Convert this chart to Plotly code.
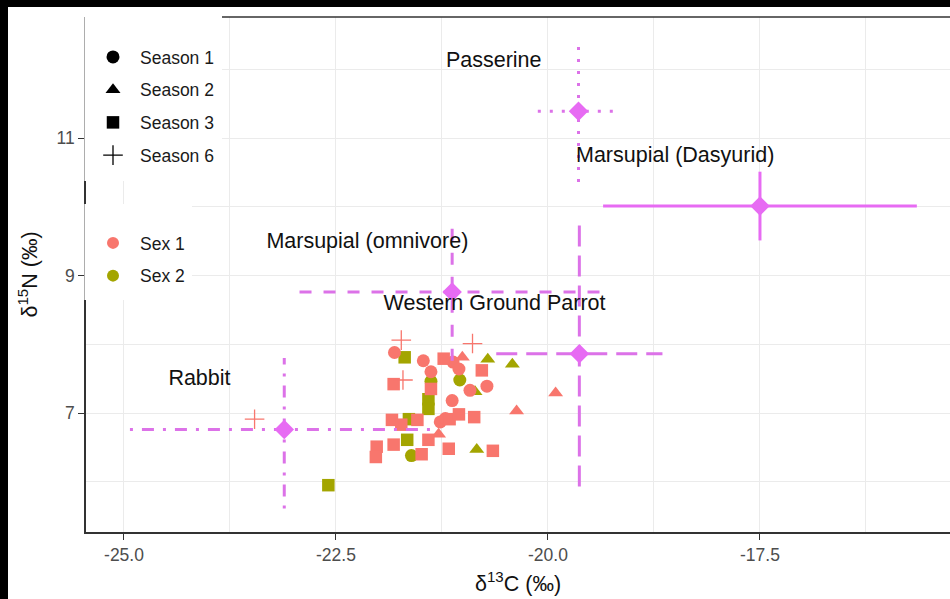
import plotly.graph_objects as go

# ---- consumer isotope values (d13C, d15N) by sex and sampling season ----
sex1_s1_c = [-21.81, -21.47, -21.12, -21.05, -21.38, -20.92, -20.72, -21.13, -21.27, -21.21]
sex1_s1_n = [7.88, 7.76, 7.74, 7.64, 7.60, 7.33, 7.39, 7.18, 6.87, 6.92]
sex1_s2_c = [-21.01, -19.91, -20.37, -21.29]
sex1_s2_n = [7.81, 7.29, 7.03, 6.69]
sex1_s3_c = [-21.23, -20.78, -21.82, -21.38, -21.84, -21.54, -21.73, -21.16, -21.05,
             -20.87, -21.41, -21.82, -22.02, -22.03, -21.17, -20.65, -21.49]
sex1_s3_n = [7.79, 7.62, 7.42, 7.35, 6.90, 6.90, 6.83, 6.91, 6.98,
             6.94, 6.61, 6.54, 6.51, 6.36, 6.48, 6.45, 6.40]
sex1_s6_c = [-21.73, -20.89, -21.71, -23.46]
sex1_s6_n = [8.06, 8.01, 7.48, 6.91]

sex2_s1_c = [-21.04, -21.38, -21.61]
sex2_s1_n = [7.48, 7.46, 6.38]
sex2_s2_c = [-20.71, -20.42, -20.86, -20.84]
sex2_s2_n = [7.78, 7.71, 7.31, 6.47]
sex2_s3_c = [-21.69, -21.41, -21.41, -21.64, -21.66, -22.59]
sex2_s3_n = [7.81, 7.20, 7.06, 6.91, 6.61, 5.95]

# ---- prey sources: mean and spread ----
prey_names = ["Marsupial (Dasyurid)", "Marsupial (omnivore)", "Passerine", "Rabbit", "Western Ground Parrot"]
prey_c_mean = [-17.50, -21.13, -19.64, -23.11, -19.63]
prey_n_mean = [10.01, 8.76, 11.39, 6.76, 7.86]
prey_c_lo = [-19.35, -22.93, -20.12, -24.93, -20.61]
prey_c_hi = [-15.65, -19.33, -19.16, -21.29, -18.65]
prey_n_lo = [9.51, 7.76, 10.36, 5.61, 5.93]
prey_n_hi = [10.51, 9.76, 12.42, 7.80, 9.79]
prey_dash = ["solid", "12px,12px", "3px,9px", "3px,9px,12px,9px", "21px,9px"]
label_dx = -1.0
label_dy = 0.72

season_names = ["Season 1", "Season 2", "Season 3", "Season 6"]
sex_names = ["Sex 1", "Sex 2"]

SEX_COL = {"Sex 1": "#F8766D", "Sex 2": "#A3A500"}
PREY_COL = "#E76BF3"
PREY_LINE_COL = "#DC72E8"
FONT = "Liberation Sans, Arial, sans-serif"

SYMBOL = {
    "Season 1": dict(symbol="circle", size=13),
    "Season 2": dict(symbol="triangle-up", size=13),
    "Season 3": dict(symbol="square", size=12.5),
    "Season 6": dict(symbol="cross-thin-open", size=14, line=dict(width=1.3)),
}

fig = go.Figure()

groups = [
    ("Sex 2", "Season 1", sex2_s1_c, sex2_s1_n),
    ("Sex 2", "Season 2", sex2_s2_c, sex2_s2_n),
    ("Sex 2", "Season 3", sex2_s3_c, sex2_s3_n),
    ("Sex 1", "Season 1", sex1_s1_c, sex1_s1_n),
    ("Sex 1", "Season 2", sex1_s2_c, sex1_s2_n),
    ("Sex 1", "Season 3", sex1_s3_c, sex1_s3_n),
    ("Sex 1", "Season 6", sex1_s6_c, sex1_s6_n),
]
for sex, season, xs, ys in groups:
    m = dict(SYMBOL[season])
    m["color"] = SEX_COL[sex]
    fig.add_trace(go.Scatter(x=xs, y=ys, mode="markers", marker=m,
                             showlegend=False, hoverinfo="skip"))

# error bars of the prey sources
for i, name in enumerate(prey_names):
    col = PREY_COL if prey_dash[i] == "solid" else PREY_LINE_COL
    line = dict(color=col, width=3, dash=prey_dash[i])
    fig.add_trace(go.Scatter(x=[prey_c_lo[i], prey_c_hi[i]], y=[prey_n_mean[i]] * 2,
                             mode="lines", line=line, showlegend=False, hoverinfo="skip"))
    fig.add_trace(go.Scatter(x=[prey_c_mean[i]] * 2, y=[prey_n_lo[i], prey_n_hi[i]],
                             mode="lines", line=line, showlegend=False, hoverinfo="skip"))

fig.add_trace(go.Scatter(x=prey_c_mean, y=prey_n_mean, mode="markers",
                         marker=dict(symbol="diamond", size=15, color=PREY_COL),
                         showlegend=False, hoverinfo="skip"))

fig.add_trace(go.Scatter(x=[c + label_dx for c in prey_c_mean],
                         y=[n + label_dy for n in prey_n_mean],
                         mode="text", text=prey_names, textposition="middle center",
                         textfont=dict(family=FONT, size=21.5, color="#111111"),
                         showlegend=False, hoverinfo="skip"))

# legend entries
for s in season_names:
    m = dict(SYMBOL[s])
    m["color"] = "black"
    fig.add_trace(go.Scatter(x=[None], y=[None], mode="markers", marker=m, name=s,
                             legend="legend", legendgroup=s, showlegend=True))
for s in sex_names:
    fig.add_trace(go.Scatter(x=[None], y=[None], mode="markers",
                             marker=dict(symbol="circle", size=12, color=SEX_COL[s]),
                             name=s, legend="legend2", legendgroup=s, showlegend=True))

# plot area geometry (pixels)
L, R, T, B = 86, 950, 17, 532
W, H = R - L, B - T


def px(xp):
    return (xp - L) / W


def py(yp):
    return (B - yp) / H


legend_style = dict(
    x=0, xanchor="left", yanchor="top", bgcolor="rgba(0,0,0,0)",
    font=dict(family=FONT, size=17.5, color="#1a1a1a"),
    itemwidth=44, tracegroupgap=7, traceorder="grouped",
)

axis_common = dict(
    showline=True, linecolor="#333333", linewidth=1.5,
    ticks="outside", ticklen=6, tickwidth=1.3, tickcolor="#333333",
    tickfont=dict(family=FONT, size=17.5, color="#4D4D4D"),
    showgrid=True, gridcolor="#EBEBEB", gridwidth=1.3, zeroline=False,
)

fig.update_layout(
    width=950, height=599,
    margin=dict(l=L, r=950 - R, t=T, b=599 - B),
    paper_bgcolor="white", plot_bgcolor="white",
    xaxis=dict(range=[-25.448, -15.259], tickmode="array",
               tickvals=[-25, -22.5, -20, -17.5], ticktext=["-25.0", "-22.5", "-20.0", "-17.5"],
               minor=dict(tickmode="linear", tick0=-25, dtick=1.25, showgrid=True,
                          gridcolor="#EBEBEB", gridwidth=0.9, ticks=""),
               **axis_common),
    yaxis=dict(range=[5.269, 12.76], tickmode="array",
               tickvals=[7, 9, 11], ticktext=["7", "9", "11"],
               minor=dict(tickmode="linear", tick0=6, dtick=1, showgrid=True,
                          gridcolor="#EBEBEB", gridwidth=0.9, ticks=""),
               **axis_common),
    legend=dict(y=py(39), **legend_style),
    legend2=dict(y=py(225), **legend_style),
    showlegend=True,
    shapes=[
        # top edge of the panel
        dict(type="line", xref="x domain", yref="y domain", x0=0, x1=1, y0=1, y1=1,
             line=dict(color="#333333", width=1.5), layer="above"),
        # legend backgrounds
        dict(type="rect", xref="paper", yref="paper", x0=px(84.4), x1=px(222), y0=py(181), y1=py(7),
             fillcolor="white", line=dict(width=0), layer="above"),
        dict(type="rect", xref="paper", yref="paper", x0=px(84.4), x1=px(192), y0=py(300), y1=py(204),
             fillcolor="white", line=dict(width=0), layer="above"),
        # dark frame along the top and left edges
        dict(type="rect", xref="paper", yref="paper", x0=px(-5), x1=px(955), y0=py(7), y1=py(-5),
             fillcolor="black", line=dict(width=0), layer="above"),
        dict(type="rect", xref="paper", yref="paper", x0=px(-5), x1=px(8), y0=py(604), y1=py(-5),
             fillcolor="black", line=dict(width=0), layer="above"),
    ],
    annotations=[
        dict(text="δ<sup>13</sup>C (‰)", xref="paper", yref="paper", x=0.5, y=py(582),
             xanchor="center", yanchor="middle", showarrow=False,
             font=dict(family=FONT, size=21.5, color="#111111")),
        dict(text="δ<sup>15</sup>N (‰)", xref="paper", yref="paper", x=px(27), y=0.5,
             xanchor="center", yanchor="middle", textangle=-90, showarrow=False,
             font=dict(family=FONT, size=21.5, color="#111111")),
    ],
)

fig.write_html("out.html")
